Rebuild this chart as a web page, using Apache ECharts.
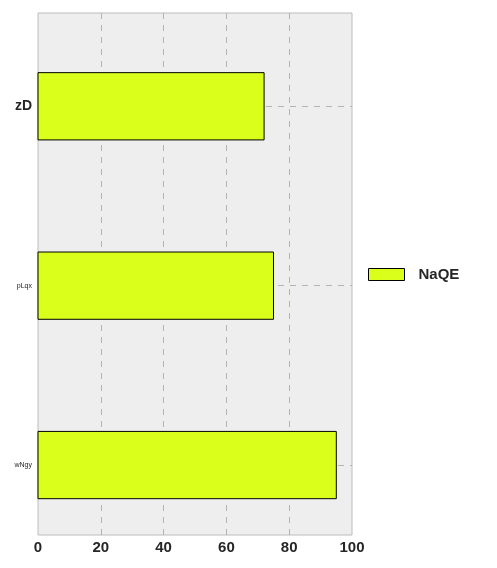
<!DOCTYPE html>
<html>
<head>
<meta charset="utf-8">
<script src="https://cdn.jsdelivr.net/npm/echarts@6/dist/echarts.min.js"></script>
<style>
  html, body { margin: 0; padding: 0; background: #fff; }
  #chart { width: 497px; height: 568px; }
</style>
</head>
<body>
<div id="chart"></div>
<script>
// data
const categories = ['zD', 'pLqx', 'wNgy'];
const values = [72, 75, 95];
const xTicks = [0, 20, 40, 60, 80, 100];
const seriesName = 'NaQE';

const barColor = '#d9ff1b';
const barHeight = 0.375; // in category units

const chart = echarts.init(document.getElementById('chart'));

const option = {
  animation: false,
  textStyle: { fontFamily: 'Liberation Sans' },
  grid: {
    left: 38, top: 13, width: 314, height: 522,
    show: true,
    backgroundColor: '#eeeeee',
    borderColor: '#bcbcbc',
    borderWidth: 1
  },
  legend: {
    left: 368, top: 267,
    padding: 0,
    itemWidth: 36, itemHeight: 12,
    data: [{ name: seriesName, icon: 'rect', itemStyle: { color: barColor, borderColor: '#000', borderWidth: 1 } }],
    textStyle: { fontSize: 15, fontWeight: 'bold', color: '#262626', padding: [0, 0, 0, 9] }
  },
  xAxis: {
    type: 'value',
    min: xTicks[0], max: xTicks[xTicks.length - 1], interval: 20,
    axisLine: { show: false },
    axisTick: { show: false },
    axisLabel: { fontSize: 15, fontWeight: 'bold', color: '#262626', margin: 5 },
    splitLine: { show: true, showMinLine: false, showMaxLine: false, lineStyle: { color: '#b3b3b3', type: [6, 6], width: 1 } }
  },
  yAxis: {
    type: 'value',
    inverse: true,
    min: -0.52, max: 2.39,
    axisLine: { show: false },
    axisTick: { show: false, customValues: [0, 1, 2] },
    axisLabel: {
      customValues: [0, 1, 2],
      margin: 6,
      formatter: function (v) {
        const i = Math.round(v);
        return '{c' + i + '|' + categories[i] + '}';
      },
      rich: {
        c0: { fontSize: 14, fontWeight: 'bold', color: '#262626' },
        c1: { fontSize: 7, color: '#262626' },
        c2: { fontSize: 7, color: '#262626' }
      }
    },
    splitLine: { show: true, lineStyle: { color: '#b3b3b3', type: [6, 6], width: 1 } }
  },
  series: [{
    name: seriesName,
    type: 'custom',
    itemStyle: { color: barColor, borderColor: '#000', borderWidth: 1 },
    encode: { x: 0, y: 1 },
    data: values.map(function (v, i) { return [v, i]; }),
    renderItem: function (params, api) {
      const idx = api.value(1);
      const start = api.coord([0, idx]);
      const end = api.coord([api.value(0), idx]);
      const h = api.size([0, barHeight])[1];
      return {
        type: 'rect',
        shape: { x: start[0], y: start[1] - h / 2, width: end[0] - start[0], height: h },
        style: api.style({ fill: barColor, stroke: '#000', lineWidth: 1 })
      };
    }
  }]
};

chart.setOption(option);
</script>
</body>
</html>
